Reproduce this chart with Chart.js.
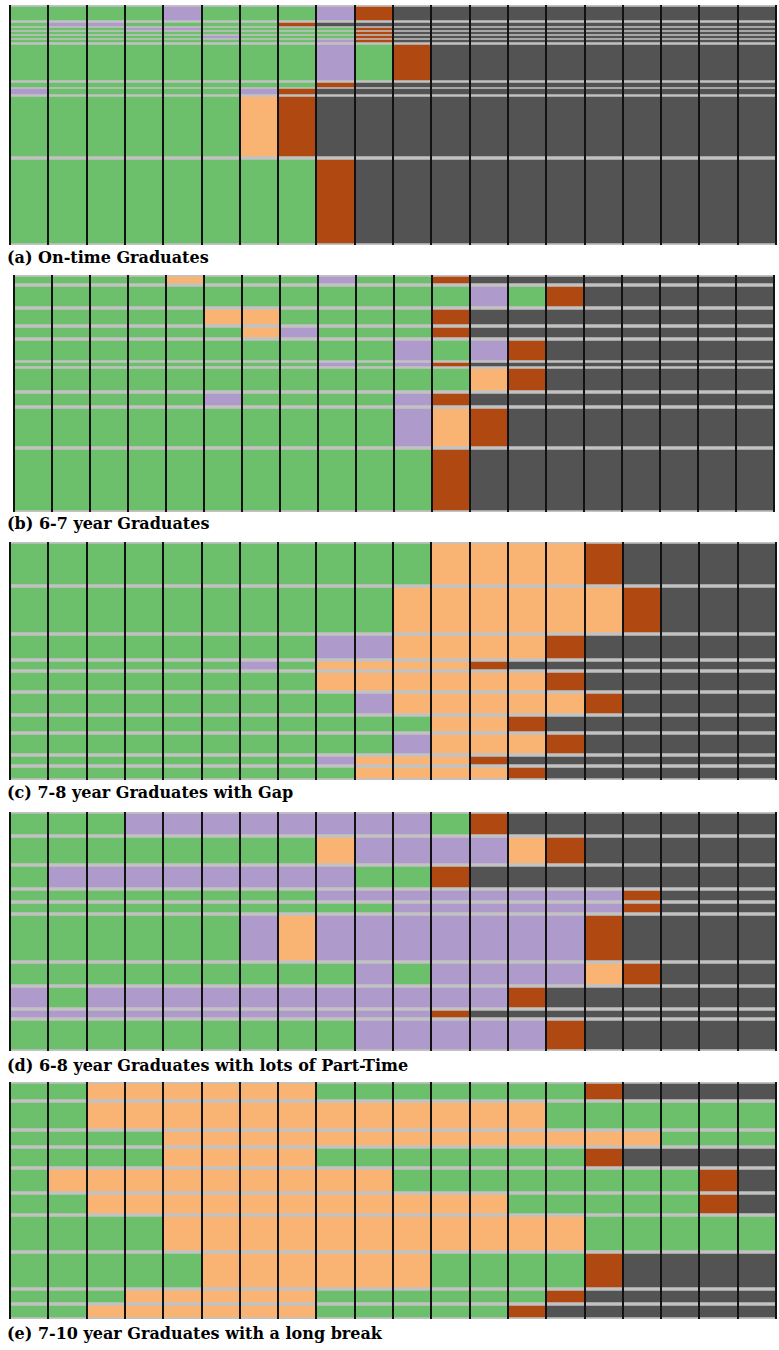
<!DOCTYPE html>
<html>
<head>
<meta charset="utf-8">
<script src="https://cdn.jsdelivr.net/npm/chart.js@4.4.1/dist/chart.umd.min.js"></script>
<style>
html, body { margin: 0; padding: 0; background: #fff; }
body { width: 779px; height: 1350px; position: relative; overflow: hidden; }
.panel { position: absolute; }
.cap { position: absolute; left: 7px; font-family: 'DejaVu Serif', 'Liberation Serif', serif; font-weight: bold; font-size: 16px; line-height: 16px; color: #000; white-space: nowrap; }
</style>
</head>
<body>
<script>
// ---------------- DATA ----------------
// 20 semesters on the horizontal axis
const semesters = ['1','2','3','4','5','6','7','8','9','10','11','12','13','14','15','16','17','18','19','20'];
// states: G full-time, P part-time, O gap (break), R graduated, D after graduation
const stateNames = { G: 'Full-time', P: 'Part-time', O: 'Gap', R: 'Graduated', D: 'After graduation' };

// (a) On-time Graduates
const captionA = '(a) On-time Graduates';
const weightsA = [17, 5, 4, 4, 4, 4, 39, 6, 7, 63, 87];
const sequencesA = [
  'GGGGPGGGPRDDDDDDDDDD',
  'GPPGGGGRDDDDDDDDDDDD',
  'GGGPPGGGGRDDDDDDDDDD',
  'GGGGGGGGGRDDDDDDDDDD',
  'GGGGGPGGGRDDDDDDDDDD',
  'GGGGGGGGPRDDDDDDDDDD',
  'GGGGGGGGPGRDDDDDDDDD',
  'GGGGGGGGRDDDDDDDDDDD',
  'PGGGGGPRDDDDDDDDDDDD',
  'GGGGGGORDDDDDDDDDDDD',
  'GGGGGGGGRDDDDDDDDDDD'
];

// (b) 6-7 year Graduates
const captionB = '(b) 6-7 year Graduates';
const weightsB = [10, 23, 18, 13, 23, 5, 25, 15, 41, 64];
const sequencesB = [
  'GGGGOGGGPGGRDDDDDDDD',
  'GGGGGGGGGGGGPGRDDDDD',
  'GGGGGOOGGGGRDDDDDDDD',
  'GGGGGGOPGGGRDDDDDDDD',
  'GGGGGGGGGGPGPRDDDDDD',
  'GGGGGGGGPGPRDDDDDDDD',
  'GGGGGGGGGGGGORDDDDDD',
  'GGGGGPGGGGPRDDDDDDDD',
  'GGGGGGGGGGPORDDDDDDD',
  'GGGGGGGGGGGRDDDDDDDD'
];

// (c) 7-8 year Graduates with Gap
const captionC = '(c) 7-8 year Graduates with Gap';
const weightsC = [44, 48, 26, 11, 21, 23, 18, 22, 11, 14];
const sequencesC = [
  'GGGGGGGGGGGOOOORDDDD',
  'GGGGGGGGGGOOOOOORDDD',
  'GGGGGGGGPPOOOORDDDDD',
  'GGGGGGPGOOOORDDDDDDD',
  'GGGGGGGGOOOOOORDDDDD',
  'GGGGGGGGGPOOOOORDDDD',
  'GGGGGGGGGGGOORDDDDDD',
  'GGGGGGGGGGPOOORDDDDD',
  'GGGGGGGGPOOORDDDDDDD',
  'GGGGGGGGGOOOORDDDDDD'
];

// (d) 6-8 year Graduates with lots of Part-Time
const captionD = '(d) 6-8 year Graduates with lots of Part-Time';
const weightsD = [24, 29, 24, 13, 12, 48, 24, 23, 10, 32];
const sequencesD = [
  'GGGPPPPPPPPGRDDDDDDD',
  'GGGGGGGGOPPPPORDDDDD',
  'GPPPPPPPPGGRDDDDDDDD',
  'GGGGGGGGPPPPPPPPRDDD',
  'GGGGGGGGGGPPPPPPRDDD',
  'GGGGGGPOPPPPPPPRDDDD',
  'GGGGGGGGGPGPPPPORDDD',
  'PGPPPPPPPPPPPRDDDDDD',
  'PPPPPPPPPPPRDDDDDDDD',
  'GGGGGGGGGPPPPPRDDDDD'
];

// (e) 7-10 year Graduates with a long break
const captionE = '(e) 7-10 year Graduates with a long break';
const weightsE = [19, 29, 17, 21, 25, 22, 37, 37, 15, 15];
const sequencesE = [
  'GGOOOOOOGGGGGGGRDDDD',
  'GGOOOOOOOOOOOOGGGGGG',
  'GGGGOOOOOOOOOOOOOGGG',
  'GGGGOOOOGGGGGGGRDDDD',
  'GOOOOOOOOOGGGGGGGGRD',
  'GGOOOOOOOOOOOGGGGGRD',
  'GGGGOOOOOOOOOOOGGGGG',
  'GGGGGOOOOOOGGGGRDDDD',
  'GGGOOOOOGGGGGGRDDDDD',
  'GGOOOOOOGGGGGRDDDDDD'
];

// ---------------- STYLE / LAYOUT ----------------
const COLORS = { G: '#6cc06c', P: '#af9bcb', O: '#f9b373', R: '#b04812', D: '#535353' };
const SEP_COLOR = '#c2c2c2';
const GRID_COLOR = '#121212';

const panels = [
  { caption: captionA, weights: weightsA, sequences: sequencesA, left: 10, top: 5,    width: 766, height: 240, capTop: 250 },
  { caption: captionB, weights: weightsB, sequences: sequencesB, left: 14, top: 275,  width: 760, height: 237, capTop: 516 },
  { caption: captionC, weights: weightsC, sequences: sequencesC, left: 10, top: 542,  width: 766, height: 238, capTop: 785 },
  { caption: captionD, weights: weightsD, sequences: sequencesD, left: 10, top: 812,  width: 766, height: 239, capTop: 1058 },
  { caption: captionE, weights: weightsE, sequences: sequencesE, left: 10, top: 1082, width: 766, height: 237, capTop: 1326 }
];

panels.forEach((p) => {
  const wrap = document.createElement('div');
  wrap.className = 'panel';
  wrap.style.left = (p.left - 1) + 'px';
  wrap.style.top = p.top + 'px';
  wrap.style.width = (p.width + 2) + 'px';
  wrap.style.height = p.height + 'px';
  const canvas = document.createElement('canvas');
  canvas.width = p.width + 2;
  canvas.height = p.height;
  canvas.style.width = (p.width + 2) + 'px';
  canvas.style.height = p.height + 'px';
  wrap.appendChild(canvas);
  document.body.appendChild(wrap);

  const cap = document.createElement('div');
  cap.className = 'cap';
  cap.style.top = p.capTop + 'px';
  cap.textContent = p.caption;
  document.body.appendChild(cap);

  const total = p.weights.reduce((a, b) => a + b, 0);
  const datasets = p.sequences.map((seq, i) => {
    const sep = p.weights[i] < 8 ? 1 : 2;   // thinner separators on very small groups
    return {
      label: 'Sequence ' + (i + 1),
      data: semesters.map(() => p.weights[i]),
      backgroundColor: seq.split('').map(s => COLORS[s]),
      borderColor: SEP_COLOR,
      borderWidth: { top: sep, bottom: sep, left: 0, right: 0 },
      borderSkipped: false,
      categoryPercentage: 1.0,
      barPercentage: 1.0
    };
  });

  new Chart(canvas.getContext('2d'), {
    type: 'bar',
    data: { labels: semesters, datasets },
    options: {
      responsive: false,
      animation: false,
      devicePixelRatio: 1,
      layout: { padding: { left: 1, right: 1, top: 0, bottom: 0 } },
      plugins: { legend: { display: false }, tooltip: { enabled: false }, title: { display: false } },
      scales: {
        x: {
          stacked: true,
          offset: true,
          grid: { offset: true, color: GRID_COLOR, lineWidth: 2, drawTicks: false, z: 1 },
          ticks: { display: false },
          border: { display: false }
        },
        y: {
          stacked: true,
          reverse: true,
          min: 0,
          max: total,
          display: false
        }
      }
    }
  });
});
</script>
</body>
</html>
